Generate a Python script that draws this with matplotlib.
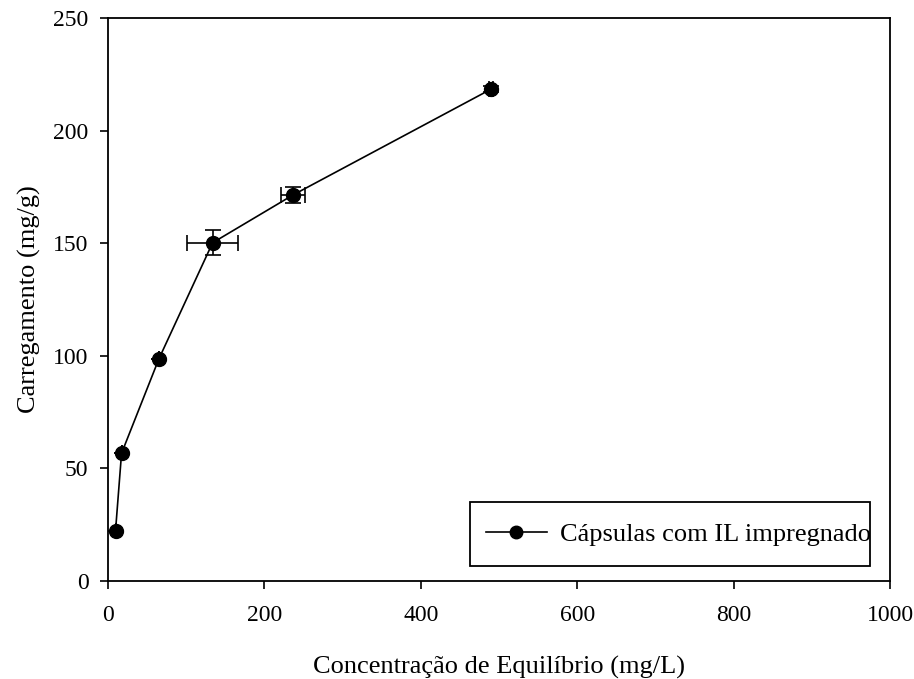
import matplotlib
matplotlib.use("Agg")
import matplotlib.pyplot as plt
from matplotlib.lines import Line2D
from matplotlib.patches import Rectangle

# loading isotherm data
conc = [9.8, 17.5, 65.2, 133.9, 236.6, 490.3]
load = [22.3, 56.7, 98.6, 150.2, 171.4, 218.5]
conc_err = [0, 0, 0, 33, 15, 2.5]
load_err = [0, 0, 0, 5.5, 3.6, 1.5]

plt.rcParams['font.family'] = ['Liberation Serif', 'DejaVu Serif']

fig = plt.figure(figsize=(9.14, 6.79), dpi=100)
ax = fig.add_axes([0.118, 0.1443, 0.856, 0.8292])

ax.errorbar(conc, load, xerr=conc_err, yerr=load_err, color='black',
            marker='o', markersize=10, linewidth=1.2, elinewidth=1.2,
            capsize=6, capthick=1.2)

ax.set_xlim(0, 1000)
ax.set_ylim(0, 250)
ax.set_xticks([0, 200, 400, 600, 800, 1000])
ax.set_yticks([0, 50, 100, 150, 200, 250])
ax.tick_params(direction='out', length=6, width=1.2, labelsize=17, pad=8,
               top=False, right=False)
ax.tick_params(axis='x', pad=11)
for s in ax.spines.values():
    s.set_linewidth(1.3)

ax.set_xlabel('Concentração de Equilíbrio (mg/L)', fontsize=19, labelpad=22)
ax.set_ylabel('Carregamento (mg/g)', fontsize=19, labelpad=9)

# legend box: frame drawn separately so the text sits against the right edge
ax.add_patch(Rectangle((0.463, 0.0266), 0.5115, 0.1137, transform=ax.transAxes,
                       facecolor='white', edgecolor='black', linewidth=1.3,
                       zorder=4))
handle = Line2D([], [], color='black', linewidth=1.2, marker='o', markersize=9)
leg = ax.legend([handle], ['Cápsulas com IL impregnado'],
                loc='center left', bbox_to_anchor=(0.463, 0.0835),
                borderaxespad=0, fontsize=19, frameon=False, borderpad=0.6,
                handlelength=2.3, handletextpad=0.5)
leg.set_zorder(5)

fig.savefig('out.png', dpi=100)
